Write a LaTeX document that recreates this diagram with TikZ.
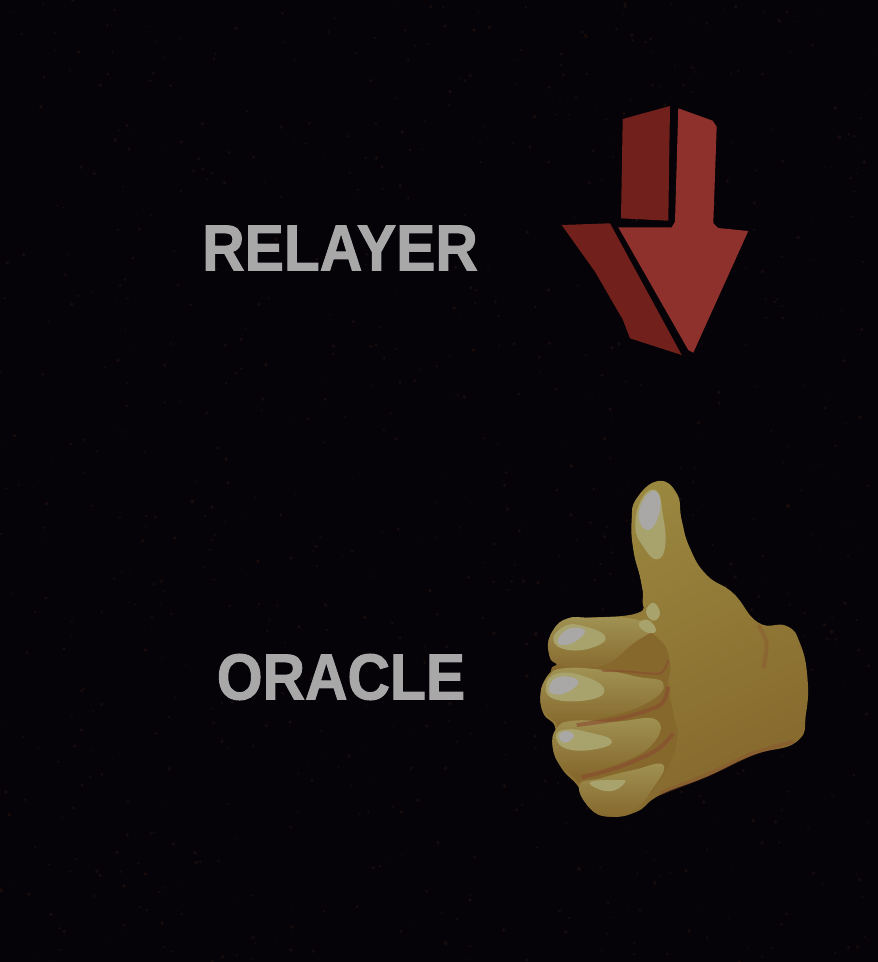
\documentclass[tikz,border=0pt]{standalone}
\usepackage{fontspec}
\setmainfont{Liberation Sans}[BoldFeatures={FakeBold=1.6}]
\definecolor{bgdark}{HTML}{050208}
\definecolor{speck}{HTML}{170C0C}
\definecolor{arrowdark}{HTML}{71201B}
\definecolor{arrowlight}{HTML}{8E302B}
\definecolor{handbase}{HTML}{9A873F}
\definecolor{handdark}{HTML}{86682D}
\definecolor{handlight}{HTML}{A8A26C}
\definecolor{handshine}{HTML}{A9A8A6}
\definecolor{handred}{HTML}{8A4A30}
\definecolor{labelgrey}{HTML}{A8A8A8}
\tikzset{
	label text/.style={font=\bfseries\fontsize{65}{65}\selectfont, text=labelgrey, inner sep=0pt, xscale=0.905},
	hand part/.style={smooth cycle, tension=0.8},
	finger/.style={top color=handlight!45!handbase, bottom color=handdark},
}
\begin{document}
\begin{tikzpicture}[x=1pt, y=-1pt]
	\def\XMAX{878}
	\def\YMAX{962}

	%background
	\useasboundingbox (0,0) rectangle (\XMAX,\YMAX);
	\fill [bgdark] (0,0) rectangle (\XMAX,\YMAX);
	\pgfmathsetseed{42}
	\foreach \i in {1,...,900}
		\fill [speck] ({rnd*\XMAX},{rnd*\YMAX}) circle({0.6+rnd*1.4});

	%labels
	\node [label text] (relayer) at (340,248) {RELAYER};
	\node [label text] (oracle) at (341,677) {ORACLE};

	%arrow
	\fill [arrowdark] (622.7,119) -- (670,106) -- (668.3,220.7) -- (621,218.3) -- cycle;
	\fill [arrowdark] (561.7,225) -- (610,223.3) -- (681.7,355) -- (630,338.3) -- (623,320) -- (595,271.7) -- cycle;
	\fill [arrowlight] (678.3,108.3) -- (712.7,120.7) -- (716.7,126.7) -- (713.3,223.3) -- (718,228)
		-- (748.3,231) -- (693.3,352.7) -- (688.3,350) -- (618.3,227.3) -- (671.7,227.3) -- (675,221.7) -- cycle;

	%hand
	\begin{scope}[shift={(520,470)}, scale=1/3]
		\shade [top color=handbase, bottom color=handdark, shading angle=25] plot [hand part] coordinates {(415,33) (470,70) (485,150) (510,235) (560,315) (640,370)
			(715,458) (800,468) (840,520) (862,620) (858,730) (830,815) (700,855) (560,920) (420,975)
			(350,1025) (270,1040) (210,1015) (175,950) (125,895) (98,830) (105,770) (70,730) (62,670) (80,620) (110,585)
			(85,540) (100,480) (145,445) (210,443) (350,430) (368,390) (362,330) (340,240) (335,150) (350,85)};
		%finger shadow
		\fill [handdark] plot [hand part] coordinates {(120,580) (250,530) (340,475) (420,510) (450,580) (445,650)
			(460,730) (470,820) (420,930) (350,1000) (270,1000) (200,960) (110,850) (110,760) (70,700) (90,610)};
		%fingers
		\shade [finger] plot [hand part] coordinates {(85,540) (100,480) (145,445) (210,443) (330,445) (395,475) (340,520) (240,590) (120,585)};
		\shade [finger] plot [hand part] coordinates {(62,670) (85,620) (130,595) (250,600) (350,620) (430,640) (380,700) (240,745) (130,760) (75,725)};
		\shade [finger] plot [hand part] coordinates {(98,830) (110,775) (160,752) (280,755) (410,750) (390,830) (270,890) (180,915) (125,890)};
		\shade [finger] plot [hand part] coordinates {(178,945) (240,925) (340,900) (430,885) (395,960) (340,1020) (270,1040) (210,1015)};
		%finger seams
		\draw [handred, line width=2pt, opacity=0.6] plot [smooth] coordinates {(245,602) (330,605) (420,610) (445,570)};
		\draw [handred, line width=4pt, opacity=0.6] plot [smooth] coordinates {(170,765) (300,745) (420,705) (445,650)};
		\draw [handred, line width=4pt, opacity=0.6] plot [smooth] coordinates {(185,922) (300,890) (410,840) (460,790)};
		\draw [handred, line width=4pt, opacity=0.35] plot [smooth] coordinates {(420,970) (560,915) (700,850) (820,815)};
		\draw [handred, line width=4pt, opacity=0.3] plot [smooth] coordinates {(715,465) (740,520) (730,595)};
		%light areas
		\fill [handlight] plot [hand part] coordinates {(100,510) (135,468) (190,468) (255,498) (225,530) (145,540)};
		\fill [handlight] plot [hand part] coordinates {(78,645) (115,610) (190,618) (252,655) (215,688) (105,688)};
		\fill [handlight] plot [hand part] coordinates {(108,800) (140,778) (210,788) (274,810) (240,835) (145,838)};
		\fill [handlight] plot [hand part] coordinates {(213,935) (300,930) (314,938) (280,962) (235,957)};
		\fill [handlight] plot [hand part] coordinates {(346,170) (366,85) (410,62) (428,130) (436,225) (410,268) (370,230)};
		\fill [handlight] plot [hand part] coordinates {(378,425) (400,398) (420,430) (400,452)};
		\fill [handlight] plot [hand part] coordinates {(356,462) (385,450) (408,482) (380,487)};
		%shine
		\fill [handshine] plot [hand part] coordinates {(115,505) (150,475) (195,482) (165,515) (125,525)};
		\fill [handshine] plot [hand part] coordinates {(88,648) (120,620) (175,632) (145,665) (100,672)};
		\fill [handshine] plot [hand part] coordinates {(116,797) (140,783) (162,798) (135,818)};
		\fill [handshine] plot [hand part] coordinates {(356,140) (380,75) (414,70) (418,130) (385,180)};
	\end{scope}
\end{tikzpicture}
\end{document}
